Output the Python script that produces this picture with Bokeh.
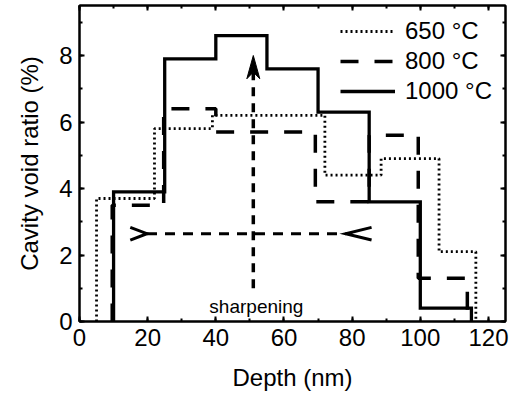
import numpy as np
from bokeh.plotting import figure
from bokeh.models import (LinearAxis, SingleIntervalTicker, Range1d, Legend, LegendItem)
from bokeh.core.properties import value
from bokeh.embed import file_html
from bokeh.resources import INLINE

# ---- data ----
depth_650 = [5, 22, 39, 72, 88.5, 105.5, 116.3]
ratio_650 = [3.7, 5.8, 6.2, 4.4, 4.9, 2.1]

depth_800 = [9.6, 24.7, 40, 69.2, 85, 99.4, 113.8]
ratio_800 = [3.5, 6.4, 5.7, 3.6, 5.6, 1.3]

depth_1000 = [10, 25, 40, 55, 70, 85, 100, 115]
ratio_1000 = [3.9, 7.9, 8.6, 7.6, 6.3, 3.6, 0.4]

labels = ["650 \u00b0C", "800 \u00b0C", "1000 \u00b0C"]

# annotation geometry (data units)
sharp_x = 51.0
sharp_y0, sharp_y1, sharp_tip = 1.0, 7.5, 8.0
head_half_w, head_base, head_notch = 1.9, 7.3, 7.5
horiz_y = 2.64
horiz_left_tip, horiz_left_end = 19.8, 14.9
horiz_right_tip, horiz_right_end = 78.1, 85.7
horiz_head_half_h = 0.19
note_x, note_y, note_text = 51.9, 0.45, "sharpening"

FONT = "Liberation Sans"
FH = 316  # frame height in px


def steps(edges, vals):
    xs = np.repeat(np.asarray(edges, float), 2)
    ys = np.concatenate([[0.0], np.repeat(np.asarray(vals, float), 2), [0.0]])
    return xs, ys


p = figure(frame_width=426, frame_height=FH, output_backend="svg", toolbar_location=None,
           x_range=Range1d(0, 125), y_range=Range1d(0, FH / 33.25),
           min_border_left=79, min_border_right=8, min_border_top=5, min_border_bottom=0)
p.xgrid.visible = False
p.ygrid.visible = False
p.outline_line_color = "black"
p.outline_line_width = 2
p.background_fill_color = "white"
p.border_fill_color = "white"

xt = SingleIntervalTicker(interval=20, num_minor_ticks=2)
yt = SingleIntervalTicker(interval=2, num_minor_ticks=2)

for ax in [p.xaxis[0], p.yaxis[0]]:
    ax.major_tick_in = 5
    ax.major_tick_out = 0
    ax.minor_tick_in = 3
    ax.minor_tick_out = 0
    ax.axis_line_width = 2
    ax.major_tick_line_width = 2
    ax.minor_tick_line_width = 2
    ax.major_label_text_font = FONT
    ax.major_label_text_font_size = "24px"
    ax.major_label_text_color = "black"
    ax.axis_label_text_font = FONT
    ax.axis_label_text_font_size = "24px"
    ax.axis_label_text_font_style = "normal"
    ax.axis_label_text_color = "black"

p.xaxis[0].ticker = xt
p.yaxis[0].ticker = yt
p.xaxis[0].axis_label = "Depth (nm)"
p.yaxis[0].axis_label = "Cavity void ratio (%)"
p.xaxis[0].major_label_standoff = 7
p.xaxis[0].axis_label_standoff = 15
p.yaxis[0].major_label_standoff = 7
p.yaxis[0].axis_label_standoff = 13

for loc, tk in [("above", xt), ("right", yt)]:
    ax = LinearAxis(ticker=tk, major_tick_in=5, major_tick_out=0,
                    minor_tick_in=3, minor_tick_out=0, axis_line_width=2,
                    major_tick_line_width=2, minor_tick_line_width=2,
                    major_label_text_font_size="1px", major_label_text_color=None,
                    major_label_standoff=0)
    p.add_layout(ax, loc)

x650, y650 = steps(depth_650, ratio_650)
x800, y800 = steps(depth_800, ratio_800)
x1000, y1000 = steps(depth_1000, ratio_1000)

r650 = p.line(x650, y650, line_color="black", line_width=2.8, line_dash="2 3")
r800 = p.line(x800, y800, line_color="black", line_width=3.5, line_dash="18 16")
r1000 = p.line(x1000, y1000, line_color="black", line_width=3.3, line_join="miter")

# sharpening arrows
p.line([sharp_x, sharp_x], [sharp_y0, sharp_y1], line_color="black", line_width=3.5,
       line_dash="9 7")
p.patch([sharp_x, sharp_x + head_half_w, sharp_x, sharp_x - head_half_w],
        [sharp_tip, head_base, head_notch, head_base], fill_color="black", line_color="black",
        line_width=1)
p.line([horiz_left_tip, horiz_right_tip], [horiz_y, horiz_y], line_color="black",
       line_width=3, line_dash="10 8")
p.multi_line([[horiz_left_end, horiz_left_tip, horiz_left_end],
              [horiz_right_end, horiz_right_tip, horiz_right_end]],
             [[horiz_y + horiz_head_half_h, horiz_y, horiz_y - horiz_head_half_h],
              [horiz_y + horiz_head_half_h, horiz_y, horiz_y - horiz_head_half_h]],
             line_color="black", line_width=3, line_join="miter")
p.text([note_x], [note_y], text=[note_text], text_font=value(FONT), text_font_size="19px",
       text_align="center", text_baseline="alphabetic", text_color="black")

legend = Legend(items=[LegendItem(label=labels[0], renderers=[r650]),
                       LegendItem(label=labels[1], renderers=[r800]),
                       LegendItem(label=labels[2], renderers=[r1000])],
                location=(261, 215), padding=0, margin=0, spacing=0,
                glyph_width=55, glyph_height=30, label_height=30, label_standoff=10,
                label_text_font=FONT, label_text_font_size="24px", label_text_color="black",
                border_line_alpha=0, background_fill_alpha=0)
p.add_layout(legend, "center")

open("out.html", "w").write(file_html(p, INLINE))
